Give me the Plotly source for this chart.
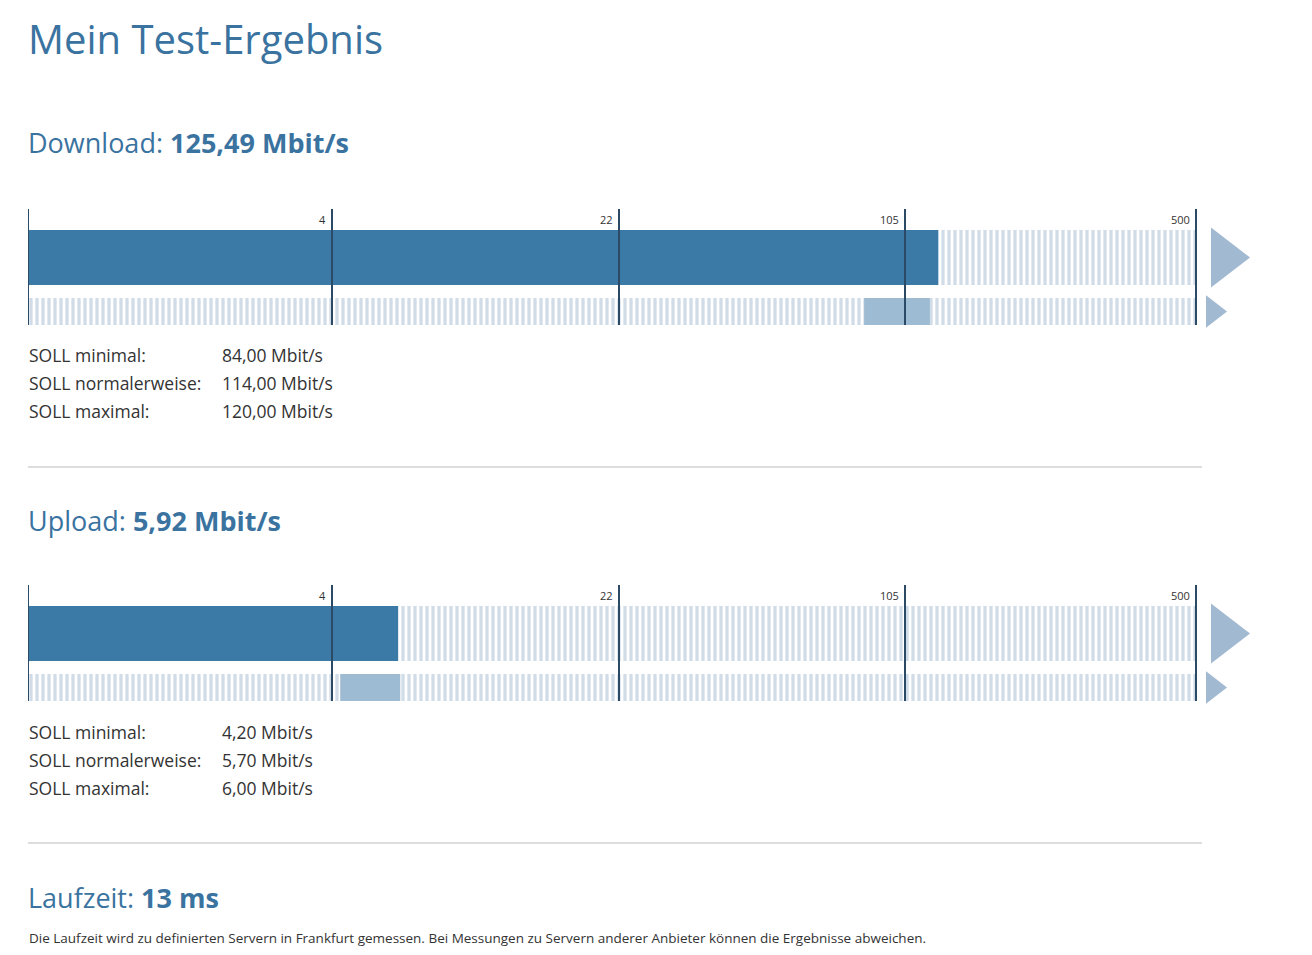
import numpy as np
import plotly.graph_objects as go

W, H = 1312, 955
OX, OY = 9, 8  # page body margin

# scale
tick_values = [0.7, 4, 22, 105, 500]
tick_labels = ["", "4", "22", "105", "500"]
seg_px = [304, 287, 286, 291]

down_value = 125.49
down_soll = [84.00, 114.00, 120.00]
up_value = 5.92
up_soll = [4.20, 5.70, 6.00]

soll_labels = ["SOLL minimal:", "SOLL normalerweise:", "SOLL maximal:"]

BLUE = "#3b79a6"
LIGHT = "#a2b9d2"
RANGE = "#9dbbd2"
TITLE = "#3a73a0"
TXT = "#333333"
FONT = "Open Sans"

bounds = np.concatenate([[0], np.cumsum(seg_px)])


def pos(v):
    for i in range(4):
        lo, hi = tick_values[i], tick_values[i + 1]
        if v <= hi or i == 3:
            f = np.log(v / lo) / np.log(hi / lo)
            return bounds[i] + f * seg_px[i]


def fmt(v):
    return f"{v:.2f}".replace(".", ",") + " Mbit/s"


fig = go.Figure()
shapes, annos = [], []
x_end = 1230
stripes = dict(shape="|", fgcolor=LIGHT, bgcolor="white", size=6, solidity=0.55)


def meter(n, top, value, soll):
    xa = "x" if n == 1 else f"x{n}"
    ya = "y" if n == 1 else f"y{n}"
    end = bounds[-1]
    v = pos(value)
    lo, hi = pos(soll[0]), pos(soll[2])
    up_c, up_w = top + 48.5, 55
    lo_c, lo_w = top + 102.5, 27
    fig.add_trace(go.Bar(x=[end - v], base=[v], y=[up_c], width=[up_w], orientation="h",
                         marker=dict(color="white", line_width=0, pattern=stripes),
                         xaxis=xa, yaxis=ya, showlegend=False, hoverinfo="skip"))
    fig.add_trace(go.Bar(x=[end], base=[0], y=[lo_c], width=[lo_w], orientation="h",
                         marker=dict(color="white", line_width=0, pattern=stripes),
                         xaxis=xa, yaxis=ya, showlegend=False, hoverinfo="skip"))
    fig.add_trace(go.Bar(x=[v], base=[0], y=[up_c], width=[up_w], orientation="h",
                         marker=dict(color=BLUE, line_width=0),
                         xaxis=xa, yaxis=ya, showlegend=False))
    fig.add_trace(go.Bar(x=[hi - lo], base=[lo], y=[lo_c], width=[lo_w], orientation="h",
                         marker=dict(color=RANGE, line_width=0),
                         xaxis=xa, yaxis=ya, showlegend=False))
    fig.add_trace(go.Scatter(x=[end + 28], y=[up_c], mode="markers",
                             marker=dict(symbol="triangle-right", size=52, color=LIGHT),
                             xaxis=xa, yaxis=ya, showlegend=False, cliponaxis=False))
    fig.add_trace(go.Scatter(x=[end + 17], y=[lo_c], mode="markers",
                             marker=dict(symbol="triangle-right", size=28, color=LIGHT),
                             xaxis=xa, yaxis=ya, showlegend=False, cliponaxis=False))
    for tv, tl in zip(tick_values, tick_labels):
        p = pos(tv)
        shapes.append(dict(type="line", xref=xa, yref=ya, x0=p, x1=p, y0=top, y1=top + 116,
                           line=dict(color="#2b4a66", width=2)))
        if tl:
            annos.append(dict(x=p - 4, y=top + 1, xref=xa, yref=ya, text=tl, showarrow=False,
                              xanchor="right", yanchor="top", font=dict(size=11, color=TXT)))


meter(1, 209, down_value, down_soll)
meter(2, 585, up_value, up_soll)

for n, top in [(1, 209), (2, 585)]:
    sx = "" if n == 1 else str(n)
    fig.layout[f"xaxis{sx}"] = dict(domain=[(29 - OX) / W, (29 - OX + x_end) / W],
                                    range=[0, x_end], visible=False, fixedrange=True)
    fig.layout[f"yaxis{sx}"] = dict(domain=[1 - (top - OY + 117) / H, 1 - (top - OY - 1) / H],
                                    range=[top + 117, top - 1], visible=False)


def text(x, y, t, size, color=TXT):
    annos.append(dict(x=(x - OX) / W, y=1 - (y - OY) / H, xref="paper", yref="paper", text=t,
                      showarrow=False, xanchor="left", yanchor="middle",
                      font=dict(size=size, color=color, family=FONT)))


text(27, 38, "Mein Test-Ergebnis", 40, TITLE)
text(27, 143, f"Download: <b>{fmt(down_value)}</b>", 27, TITLE)
text(27, 520, f"Upload: <b>{fmt(up_value)}</b>", 27, TITLE)
text(27, 897, "Laufzeit: <b>13 ms</b>", 27, TITLE)
for i, (lab, val) in enumerate(zip(soll_labels, down_soll)):
    text(28, 355 + 28 * i, lab, 17.5)
    text(221, 355 + 28 * i, fmt(val), 17.5)
for i, (lab, val) in enumerate(zip(soll_labels, up_soll)):
    text(28, 732 + 28 * i, lab, 17.5)
    text(221, 732 + 28 * i, fmt(val), 17.5)
text(28, 938, "Die Laufzeit wird zu definierten Servern in Frankfurt gemessen. Bei Messungen zu "
     "Servern anderer Anbieter können die Ergebnisse abweichen.", 13.5)

for y in (467, 843):
    shapes.append(dict(type="line", xref="paper", yref="paper", x0=(29 - OX) / W,
                       x1=(1203 - OX) / W, y0=1 - (y - OY) / H, y1=1 - (y - OY) / H,
                       line=dict(color="#bbbbbb", width=1)))

fig.update_layout(width=W, height=H, margin=dict(l=0, r=0, t=0, b=0),
                  paper_bgcolor="white", plot_bgcolor="rgba(0,0,0,0)",
                  barmode="overlay", shapes=shapes, annotations=annos,
                  font=dict(family=FONT, color=TXT))
fig.write_html("out.html", config={"displayModeBar": False})
